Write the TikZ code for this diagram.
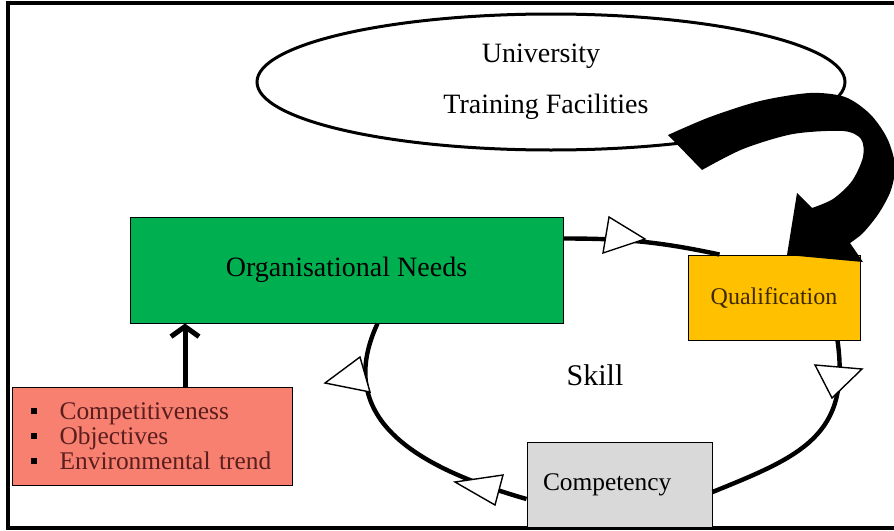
\documentclass[tikz,border=0pt]{standalone}
\usepackage{fontspec}
\setmainfont{Liberation Serif}
\usetikzlibrary{shapes.geometric,arrows.meta}

\definecolor{needgreen}{HTML}{00B050}
\definecolor{qualorange}{HTML}{FFC000}
\definecolor{compgrey}{HTML}{D9D9D9}
\definecolor{factorsalmon}{HTML}{F88070}
\definecolor{factortext}{HTML}{5A1E1E}
\definecolor{qualtext}{HTML}{3F2A00}

% square bullet for the list in the red box
\newcommand{\sqbullet}{\textcolor{black}{\rule[0.22em]{2.8pt}{2.8pt}}\hspace{11.5pt}}

\begin{document}
\begin{tikzpicture}[x=0.5pt,y=-0.5pt]

  % Styles for the boxes, the loop and its open arrow heads
  \tikzstyle{box}=[draw, line width=0.5pt, inner sep=0pt]
  \tikzstyle{loopline}=[line width=2.2pt]
  \tikzstyle{tri}=[fill=white, draw, line width=0.7pt, line join=miter]
  \tikzstyle{bigfont}=[font=\fontsize{14pt}{17pt}\selectfont]
  \tikzstyle{smallfont}=[font=\fontsize{12.7pt}{12.5pt}\selectfont]

  \useasboundingbox (0,0) rectangle (894,530);

  % Frame round the picture (open on the right)
  \draw[line width=1.6pt] (894,3) -- (8,3) -- (8,528) -- (894,528);

  % University ellipse
  \node[draw, ellipse, line width=1.5pt, minimum width=294pt, minimum height=68pt, inner sep=0pt, align=center, bigfont] (uni) at (551,82) {\hspace*{-10pt}University\\[8.5pt]\hspace*{-5pt}Training Facilities};

  % Boxes
  \node[box, fill=needgreen, minimum width=216.5pt, minimum height=53pt, bigfont] (org) at (346.5,270) {Organisational Needs};
  \node[box, fill=qualorange, minimum width=86pt, minimum height=42.5pt, font=\fontsize{12pt}{12.5pt}\selectfont, text=qualtext] (qual) at (774,297.5) {Qualification};
  \node[box, fill=compgrey, text width=76.5pt, inner xsep=8pt, minimum height=42.5pt, align=left, smallfont] (comp) at (619.5,484.5) {Competency};
  \node[box, fill=factorsalmon, text width=121pt, inner xsep=9.5pt, minimum height=49pt, align=left, smallfont, text=factortext] (factors) at (152,436) {\sqbullet Competitiveness\\ \sqbullet Objectives\\ \sqbullet Environmental trend};

  \node[font=\fontsize{15pt}{18pt}\selectfont] (skill) at (595,375) {Skill};

  % The skill loop
  \draw[loopline] ([yshift=-11pt]org.north east) to[out=0,in=168] ([xshift=16pt]qual.north west);
  \draw[loopline] ([xshift=-11.5pt]qual.south east) to[out=-82,in=22,looseness=1.25] ([yshift=-3.75pt]comp.east);
  \draw[loopline] ([yshift=-7.25pt]comp.west) to[out=164,in=245,looseness=1.2] ([xshift=124pt]org.south west);

  % open heads on the loop
  \filldraw[tri] (609,217) -- (603,253) -- (645,239) -- cycle;
  \filldraw[tri] (815,365) -- (862,369) -- (832,398) -- cycle;
  \filldraw[tri] (503,475) -- (495,505) -- (455,482) -- cycle;
  \filldraw[tri] (360,357) -- (370,392) -- (325,383) -- cycle;

  % Needs arrow
  \coordinate (stem) at ([xshift=16.5pt]factors.north);
  \draw[line width=2.5pt, -{Straight Barb[length=5pt,width=14pt]}] (stem) -- (stem |- org.south);

  % Big curved arrow from the university to the qualification
  \fill[black] plot[smooth] coordinates {(668,135) (710,117) (760,101) (810,93) (845,97) (870,114) (887,138) (895,165) (891,190) (879,213) (863,233) (850,243)}
    -- (863,262) -- (787,255) -- (797,193) -- (812,208)
    -- plot[smooth] coordinates {(812,208) (833,199) (852,181) (863,157) (861,139) (843,131) (793,134) (743,149) (702,170)} -- cycle;

\end{tikzpicture}
\end{document}
